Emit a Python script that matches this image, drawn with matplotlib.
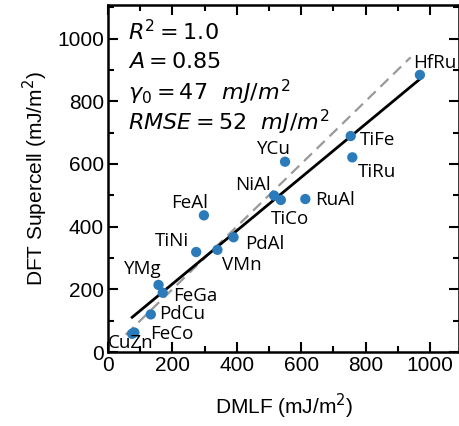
import numpy as np
import matplotlib
matplotlib.use("Agg")
import matplotlib.pyplot as plt
from matplotlib.ticker import MultipleLocator

# DMLF vs DFT supercell energies (mJ/m^2)
names = ["HfRu", "TiFe", "TiRu", "YCu", "NiAl", "TiCo", "RuAl", "FeAl",
         "PdAl", "TiNi", "VMn", "YMg", "FeGa", "PdCu", "FeCo", "CuZn"]
dmlf = [969, 754, 759, 550, 516, 537, 613, 298,
        390, 274, 340, 157, 170, 133, 82, 75]
dft = [884, 689, 621, 607, 499, 485, 488, 436,
       366, 319, 326, 214, 189, 120, 62, 58]
# label offsets in pixels relative to each point
offsets = {"HfRu": (-7, 7), "TiFe": (9, -9), "TiRu": (6, -20), "YCu": (-28, 8),
           "NiAl": (-39, 6), "TiCo": (-10, -24), "RuAl": (10, -6), "FeAl": (-33, 7),
           "PdAl": (12, -12), "TiNi": (-41, 6), "VMn": (5, -20), "YMg": (-35, 11),
           "FeGa": (10, -8), "PdCu": (8, -5), "FeCo": (16, -6), "CuZn": (-24, -14)}

slope, intercept = 0.85, 47
ident = [55, 940]

fig = plt.figure(figsize=(4.6, 4.26), dpi=100)
ax = fig.add_axes([108 / 460, 74 / 426, 351.5 / 460, 347 / 426])

xs = np.array([min(dmlf), max(dmlf)])
ax.plot(ident, ident, ls=(0, (5, 3)), color="#999999", lw=1.6, zorder=1)
ax.plot(xs, slope * xs + intercept, color="black", lw=2.0, zorder=2)
ax.scatter(dmlf, dft, s=55, color="#2b7bba", zorder=3, edgecolors="none")

for n, x, y in zip(names, dmlf, dft):
    dx, dy = offsets[n]
    ax.annotate(n, (x, y), xytext=(dx, dy), textcoords="offset pixels",
                fontsize=13.5, family="Open Sans", color="black")

stats = [r"$R^2 = 1.0$", r"$A = 0.85$", r"$\gamma_0 = 47\ \ mJ/m^2$",
         r"$RMSE = 52\ \ mJ/m^2$"]
for i, s in enumerate(stats):
    ax.text(20 / 352, 1 - (27 + 30 * i) / 347, s, transform=ax.transAxes,
            fontsize=16, va="center", ha="left")

ax.set_xlim(0, 1092)
ax.set_ylim(0, 1107)
ax.xaxis.set_major_locator(MultipleLocator(200))
ax.xaxis.set_minor_locator(MultipleLocator(100))
ax.yaxis.set_major_locator(MultipleLocator(200))
ax.yaxis.set_minor_locator(MultipleLocator(100))
ax.tick_params(which="both", direction="in", top=True, right=True, width=1.5)
ax.tick_params(which="major", length=7, labelsize=15, pad=3)
ax.tick_params(which="minor", length=4)
for lab in ax.get_xticklabels() + ax.get_yticklabels():
    lab.set_family("Liberation Sans")
for sp in ax.spines.values():
    sp.set_linewidth(1.8)

ax.set_xlabel(r"DMLF (mJ/m$^2$)", fontsize=15, family="Liberation Sans", labelpad=12)
ax.set_ylabel(r"DFT Supercell (mJ/m$^2$)", fontsize=15, family="Liberation Sans", labelpad=5)

fig.savefig("out.png", dpi=100)
